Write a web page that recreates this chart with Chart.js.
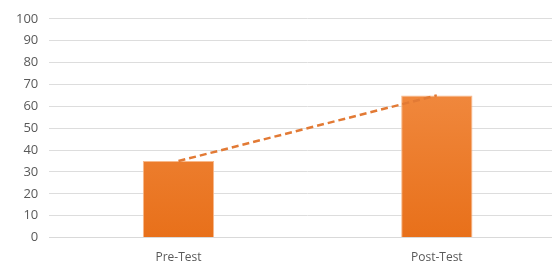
<!DOCTYPE html>
<html>
<head>
<meta charset="utf-8">
<script src="https://cdn.jsdelivr.net/npm/chart.js@4"></script>
<style>
  html, body { margin: 0; padding: 0; background: #fff; overflow: hidden; }
  #wrap { width: 566px; height: 268px; position: relative; }
</style>
</head>
<body>
<div id="wrap"><canvas id="chart"></canvas></div>
<script>
    // Chart data
    const categories = ['Pre-Test', 'Post-Test'];
    const scores     = [35, 65];
    const trend      = [35, 65];

    function barFill(ctx) {
      const area = ctx.chart.chartArea;
      if (!area) return '#ED7D31';
      const g = ctx.chart.ctx.createLinearGradient(0, area.top, 0, area.bottom);
      g.addColorStop(0, '#F4944F');
      g.addColorStop(1, '#E8701A');
      return g;
    }

    new Chart(document.getElementById('chart'), {
      data: {
        labels: categories,
        datasets: [
          { type: 'line', data: trend, borderColor: '#E27A35', borderWidth: 2.5, borderDash: [7, 4],
            pointRadius: 0, fill: false, order: 0 },
          { type: 'bar', data: scores, backgroundColor: barFill, borderColor: '#F7B98C', borderWidth: 1,
            barPercentage: 0.276, categoryPercentage: 1, order: 1 }
        ]
      },
      options: {
        responsive: true, maintainAspectRatio: false, animation: false,
        layout: { padding: { top: 17, left: 5, right: 0, bottom: -10 } },
        scales: {
          y: { min: 0, max: 100, ticks: { stepSize: 10, color: '#595959', padding: 11, font: { family: 'Open Sans', size: 13 } },
               grid: { color: '#DDDDDD', drawTicks: false }, border: { display: false } },
          x: { ticks: { color: '#595959', padding: 13, font: { family: 'Open Sans', size: 12 } },
               grid: { display: false, drawTicks: false }, border: { color: '#D9D9D9' } }
        },
        plugins: { legend: { display: false }, tooltip: { enabled: false } }
      }
    });
</script>
</body>
</html>
